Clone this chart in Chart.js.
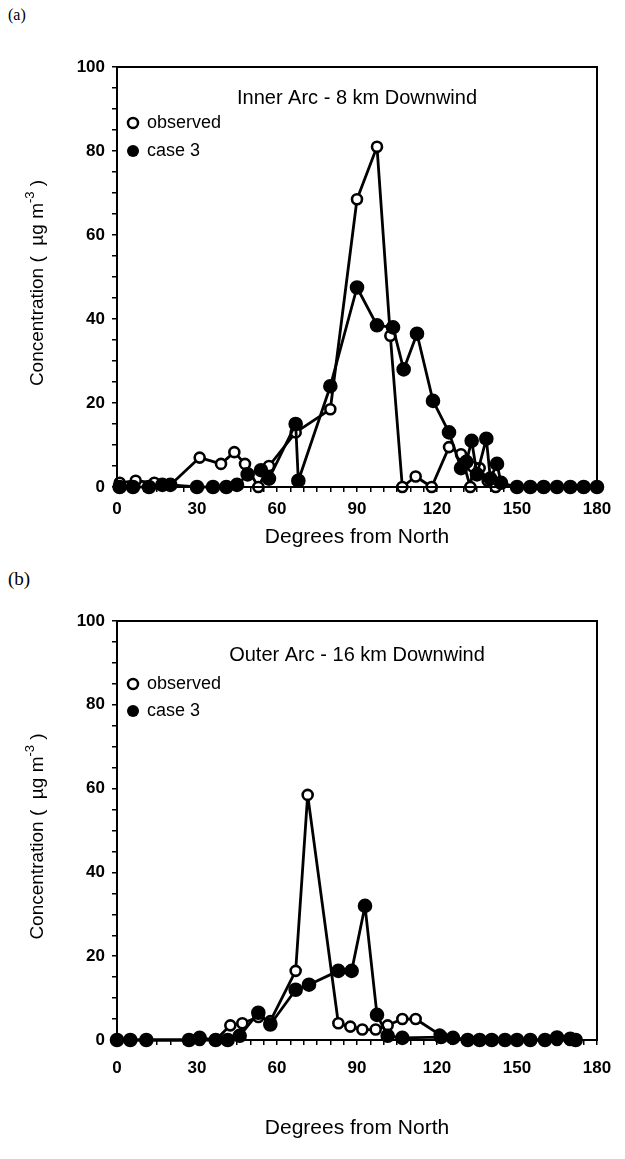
<!DOCTYPE html>
<html>
<head>
<meta charset="utf-8">
<script src="https://cdn.jsdelivr.net/npm/chart.js@4.4.1/dist/chart.umd.min.js"></script>
<style>
  body { margin: 0; background: #fff; }
  #page { position: relative; width: 625px; height: 1159px; }
  canvas { position: absolute; left: 0; }
  .tag { position: absolute; left: 8px; font-family: 'Liberation Serif', serif; color: #000; }
</style>
</head>
<body>
<div id="page">
  <div class="tag" style="top:6px;font-size:16px;">(a)</div>
  <canvas id="arcA" width="625" height="560" style="top:0"></canvas>
  <div class="tag" style="top:568px;font-size:19px;">(b)</div>
  <canvas id="arcB" width="625" height="599" style="top:560px"></canvas>
</div>
<script>
// tick labels
const degreeTicks = [0, 30, 60, 90, 120, 150, 180];
const concTicks = [0, 20, 40, 60, 80, 100];

// (a) inner arc - 8 km downwind
const degObsA = [1, 7, 14, 20, 31, 39, 44, 48, 53, 57, 67, 80, 90, 97.5, 102.5, 107, 112, 118, 124.5, 129, 132.5, 133.5, 136, 139, 142];
const obsA = [1, 1.5, 1, 0.5, 7, 5.5, 8.3, 5.5, 0, 5, 13, 18.5, 68.5, 81, 36, 0, 2.5, 0, 9.5, 7.8, 0, 4.8, 4.5, 1.5, 0];
const degCaseA = [1, 6, 12, 17, 20, 30, 36, 41, 45, 49, 54, 57, 67, 68, 80, 90, 97.5, 103.5, 107.5, 112.5, 118.5, 124.5, 129, 131, 133, 135, 138.5, 140, 142.5, 144, 150, 155, 160, 165, 170, 175, 180];
const caseA = [0, 0, 0, 0.5, 0.5, 0, 0, 0, 0.5, 3, 4, 2, 15, 1.5, 24, 47.5, 38.5, 38, 28, 36.5, 20.5, 13, 4.5, 6, 11, 3, 11.5, 2, 5.5, 1, 0, 0, 0, 0, 0, 0, 0];

// (b) outer arc - 16 km downwind
const degObsB = [0, 5, 11, 27, 31, 37, 42.5, 47, 53, 57.5, 67, 71.5, 83, 87.5, 92, 97, 101.5, 107, 112, 121, 126, 131.5, 136, 141, 145.5, 150, 155, 160.5, 165, 170];
const obsB = [0, 0, 0, 0, 0, 0, 3.5, 4, 5.5, 4.5, 16.5, 58.5, 4, 3.2, 2.5, 2.5, 3.5, 5, 5, 1.3, 0.5, 0, 0, 0, 0, 0, 0, 0, 0, 0];
const degCaseB = [0, 5, 11, 27, 31, 37, 41.5, 46, 53, 57.5, 67, 72, 83, 88, 93, 97.5, 101.5, 107, 121.5, 126, 131.5, 136, 140.5, 145.5, 150, 155, 160.5, 165, 170, 172];
const caseB = [0, 0, 0, 0, 0.5, 0, 0, 1, 6.5, 3.7, 12, 13.2, 16.5, 16.5, 32, 6, 1, 0.5, 0.7, 0.5, 0, 0, 0, 0, 0, 0, 0, 0.6, 0.3, 0];

const FONT = 'Liberation Sans, Arial, sans-serif';

function toXY(xs, ys) {
  return xs.map((x, i) => ({ x: x, y: ys[i] }));
}

// frame, in-plot title, legend and axis titles
const panelText = {
  id: 'panelText',
  afterDraw(chart, args, opts) {
    const ctx = chart.ctx;
    const a = chart.chartArea;
    ctx.save();
    ctx.strokeStyle = '#000';
    ctx.lineWidth = 2;
    ctx.strokeRect(a.left, a.top, a.right - a.left, a.bottom - a.top);

    ctx.fillStyle = '#000';
    ctx.textBaseline = 'middle';
    ctx.font = '20px ' + FONT;
    ctx.textAlign = 'center';
    ctx.fillText(opts.title, (a.left + a.right) / 2, a.top + opts.titleDy);

    // legend
    const lx = a.left + 16;
    ctx.lineWidth = 2.5;
    ctx.beginPath();
    ctx.arc(lx, a.top + opts.legDy[0], 5, 0, Math.PI * 2);
    ctx.fillStyle = '#fff';
    ctx.fill();
    ctx.stroke();
    ctx.beginPath();
    ctx.arc(lx, a.top + opts.legDy[1], 6, 0, Math.PI * 2);
    ctx.fillStyle = '#000';
    ctx.fill();
    ctx.font = '18px ' + FONT;
    ctx.textAlign = 'left';
    ctx.fillText('observed', lx + 14, a.top + opts.legDy[0]);
    ctx.fillText('case 3', lx + 14, a.top + opts.legDy[1]);

    // x title
    ctx.font = '21px ' + FONT;
    ctx.textAlign = 'center';
    ctx.fillText('Degrees from North', (a.left + a.right) / 2, a.bottom + opts.xTitleDy);

    // y title with superscript
    ctx.translate(38, (a.top + a.bottom) / 2 + 6);
    ctx.rotate(-Math.PI / 2);
    const head = 'Concentration (  \u00b5g m';
    const sup = '-3';
    const tail = ' )';
    ctx.font = '19px ' + FONT;
    const wHead = ctx.measureText(head).width;
    const wTail = ctx.measureText(tail).width;
    ctx.font = '13px ' + FONT;
    const wSup = ctx.measureText(sup).width;
    let x0 = -(wHead + wSup + wTail) / 2;
    ctx.textAlign = 'left';
    ctx.font = '19px ' + FONT;
    ctx.fillText(head, x0, 0);
    ctx.font = '13px ' + FONT;
    ctx.fillText(sup, x0 + wHead, -8);
    ctx.font = '19px ' + FONT;
    ctx.fillText(tail, x0 + wHead + wSup, 0);
    ctx.restore();
  }
};

function seriesStyle(label, points, fill, radius) {
  return {
    label: label,
    data: points,
    showLine: true,
    borderColor: '#000',
    borderWidth: 2.8,
    borderJoinStyle: 'round',
    pointRadius: radius,
    pointBackgroundColor: fill,
    pointBorderColor: '#000',
    pointBorderWidth: 2.6,
    clip: false
  };
}

function makePanel(id, p) {
  new Chart(document.getElementById(id), {
    type: 'scatter',
    data: {
      // case 3 first so its filled markers sit on top
      datasets: [
        seriesStyle('case 3', toXY(p.degCase, p.cas), '#000', 6),
        seriesStyle('observed', toXY(p.degObs, p.obs), '#fff', 5)
      ]
    },
    options: {
      responsive: false,
      animation: false,
      layout: { padding: { top: p.top, right: 28, left: 0, bottom: 0 } },
      plugins: {
        legend: { display: false },
        tooltip: { enabled: false },
        panelText: p.text
      },
      scales: {
        x: {
          type: 'linear',
          min: 0,
          max: 180,
          ticks: {
            stepSize: 5,
            autoSkip: false,
            maxRotation: 0,
            padding: p.xPad,
            color: '#000',
            font: { family: FONT, size: 17, weight: 'bold' },
            callback: (v) => (degreeTicks.includes(v) ? v : '')
          },
          grid: { drawOnChartArea: false, tickLength: 5, color: '#000', lineWidth: 1.5 },
          border: { color: '#000', width: 2 },
          afterFit: (s) => { s.height = p.xHeight; }
        },
        y: {
          min: 0,
          max: 100,
          ticks: {
            stepSize: 5,
            autoSkip: false,
            padding: 7,
            color: '#000',
            font: { family: FONT, size: 17, weight: 'bold' },
            callback: (v) => (concTicks.includes(v) ? v : '')
          },
          grid: { drawOnChartArea: false, tickLength: 5, color: '#000', lineWidth: 1.5 },
          border: { color: '#000', width: 2 },
          afterFit: (s) => { s.width = 117; }
        }
      }
    },
    plugins: [panelText]
  });
}

makePanel('arcA', {
  degObs: degObsA, obs: obsA, degCase: degCaseA, cas: caseA,
  top: 67, xHeight: 73, xPad: 7,
  text: { title: 'Inner Arc - 8 km Downwind', titleDy: 31, legDy: [56, 84], xTitleDy: 50 }
});

makePanel('arcB', {
  degObs: degObsB, obs: obsB, degCase: degCaseB, cas: caseB,
  top: 61, xHeight: 119, xPad: 13,
  text: { title: 'Outer Arc - 16 km Downwind', titleDy: 34, legDy: [63, 90], xTitleDy: 88 }
});
</script>
</body>
</html>
